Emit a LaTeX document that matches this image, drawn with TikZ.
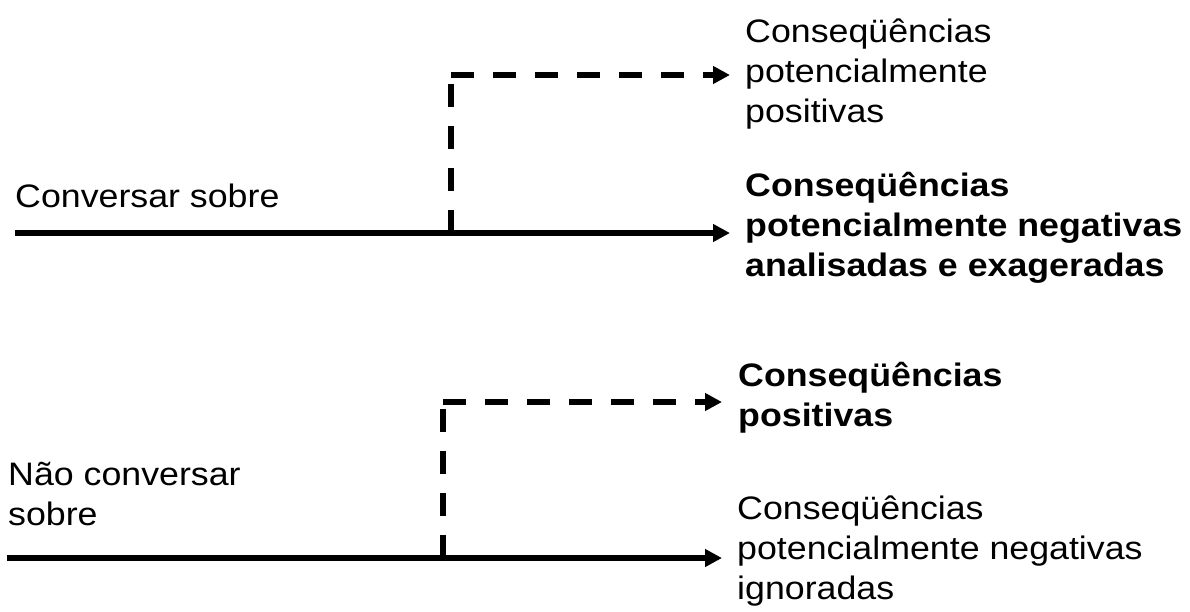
\documentclass[tikz,border=0pt]{standalone}
\usepackage{fontspec}
\setmainfont{Liberation Sans}[FakeStretch=1.1]
\usetikzlibrary{arrows.meta}
\begin{document}
\begin{tikzpicture}[x=1pt,y=-1pt,
  lbl/.style={anchor=base west, inner sep=0pt, align=left, font=\fontsize{32.5}{40}\selectfont},
  bl/.style={lbl, font=\fontsize{32.5}{40}\selectfont\bfseries},
  solidarrow/.style={line width=5.5pt, -{Triangle[length=17pt 0,width=17pt 0]}},
  dasharrow/.style={solidarrow, dash pattern=on 23pt off 19pt},
  dashline/.style={line width=5.5pt, dash pattern=on 23pt off 19pt}]
\useasboundingbox (0,0) rectangle (1190,611);
% labels (base anchor = baseline of last line)
\node[lbl] (conv) at (15,207) {Conversar sobre};
\node[lbl] (nconv) at (8,525) {Não conversar\\sobre};
\node[lbl] (pp) at (745,122) {Conseqüências\\potencialmente\\positivas};
\node[bl] (pn) at (745,276) {Conseqüências\\potencialmente negativas\\analisadas e exageradas};
\node[bl] (pos) at (738,426) {Conseqüências\\positivas};
\node[lbl] (ign) at (737,599) {Conseqüências\\potencialmente negativas\\ignoradas};
% top branch
\coordinate (s1) at (15,233);
\coordinate (j1) at (451,233);
\coordinate (c1) at (451,75);
\coordinate (e1) at (730,233);
\coordinate (f1) at (730,75);
\draw[solidarrow] (s1) -- (e1);
\draw[dashline] (j1) -- (c1);
\draw[dasharrow] (c1) -- (f1);
% bottom branch
\coordinate (s2) at (7,558);
\coordinate (j2) at (443,558);
\coordinate (c2) at (443,402);
\coordinate (e2) at (722,558);
\coordinate (f2) at (722,402);
\draw[solidarrow] (s2) -- (e2);
\draw[dashline] (j2) -- (c2);
\draw[dasharrow] (c2) -- (f2);
\end{tikzpicture}
\end{document}
